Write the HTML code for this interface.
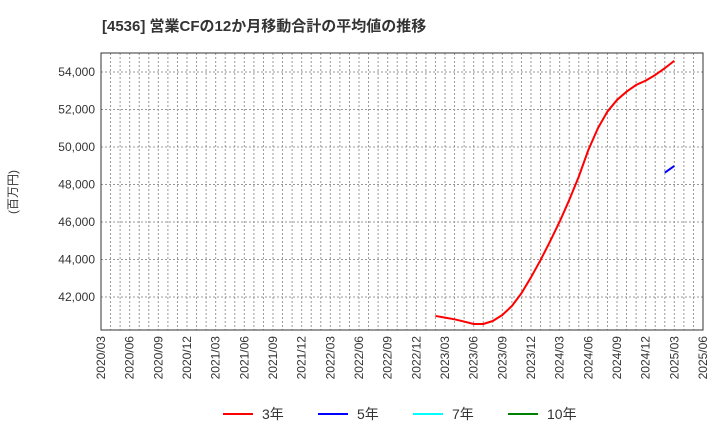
<!DOCTYPE html>
<html><head><meta charset="utf-8"><style>
body{margin:0;background:#fff;font-family:"Liberation Sans","Noto Sans CJK JP",sans-serif}
</style></head><body>
<svg width="720" height="440" xmlns="http://www.w3.org/2000/svg" style="font-family:'Liberation Sans','Noto Sans CJK JP',sans-serif">
<text x="102" y="31" font-size="15" font-weight="bold" fill="#333">[4536]  営業CFの12か月移動合計の平均値の推移</text>
<text transform="translate(17,192) rotate(-90)" font-size="12" fill="#333" text-anchor="middle">(百万円)</text>
<g id="grid"></g>
<g id="marks"></g>
<rect x="101" y="53" width="602" height="277" fill="none" stroke="#333" stroke-width="1"/>
<g id="labels" font-size="12" fill="#333"></g>
<g font-size="14" fill="#333">
<line x1="223" y1="414" x2="253" y2="414" stroke="#ff0000" stroke-width="2"/><text x="262" y="419">3年</text>
<line x1="318" y1="414" x2="348" y2="414" stroke="#0000ff" stroke-width="2"/><text x="357" y="419">5年</text>
<line x1="413" y1="414" x2="443" y2="414" stroke="#00ffff" stroke-width="2"/><text x="452" y="419">7年</text>
<line x1="508" y1="414" x2="538" y2="414" stroke="#008000" stroke-width="2"/><text x="547" y="419">10年</text>
</g>
</svg>
<script>
const yTicks=[42000,44000,46000,48000,50000,52000,54000];
const series3Start=35; // month index of 2023/02 from 2020/03
const series3=[40990,40900,40810,40690,40560,40560,40720,41040,41520,42200,43050,43970,44970,46020,47170,48420,49840,51000,51890,52510,52950,53310,53540,53840,54200,54600];
const series5Start=59;
const series5=[48630,48990];
const X0=101,X1=703,Y0=53,Y1=330,NM=63,YMIN=40240,YMAX=55013;
const ns="http://www.w3.org/2000/svg";
function xs(i){return X0+(X1-X0)*i/NM;}
function ys(v){return Y1-(v-YMIN)/(YMAX-YMIN)*(Y1-Y0);}
const grid=document.getElementById('grid'),marks=document.getElementById('marks'),labels=document.getElementById('labels');
for(let i=1;i<NM;i++){const l=document.createElementNS(ns,'line');


l.setAttribute('x1',xs(i));l.setAttribute('x2',xs(i));l.setAttribute('y1',Y0);l.setAttribute('y2',Y1);
l.setAttribute('stroke','#999');l.setAttribute('stroke-dasharray','2,2');grid.appendChild(l);}
yTicks.forEach(v=>{const l=document.createElementNS(ns,'line');


l.setAttribute('x1',X0);l.setAttribute('x2',X1);l.setAttribute('y1',ys(v));l.setAttribute('y2',ys(v));
l.setAttribute('stroke','#999');l.setAttribute('stroke-dasharray','2,2');grid.appendChild(l);
const t=document.createElementNS(ns,'text');


t.setAttribute('x',95);t.setAttribute('y',ys(v)+4);t.setAttribute('text-anchor','end');
t.textContent=v.toLocaleString('en-US');labels.appendChild(t);});
for(let i=0;i<=NM;i+=3){const m=3+i;const yr=2020+Math.floor((m-1)/12);const mo=((m-1)%12)+1;
const t=document.createElementNS(ns,'text');


const x=xs(i)+4,y=336;t.setAttribute('transform','translate('+x+','+y+') rotate(-90)');t.setAttribute('text-anchor','end');
t.textContent=yr+'/'+String(mo).padStart(2,'0');labels.appendChild(t);}
function line(data,start,color,name){const p=document.createElementNS(ns,'polyline');


p.setAttribute('points',data.map((v,i)=>xs(start+i)+','+ys(v)).join(' '));
p.setAttribute('fill','none');p.setAttribute('stroke',color);p.setAttribute('stroke-width','2');p.setAttribute('stroke-linejoin','round');marks.appendChild(p);}
line(series3,series3Start,'#ff0000','series-3y-line');
line(series5,series5Start,'#0000ff','series-5y-line');
</script>
</body></html>
